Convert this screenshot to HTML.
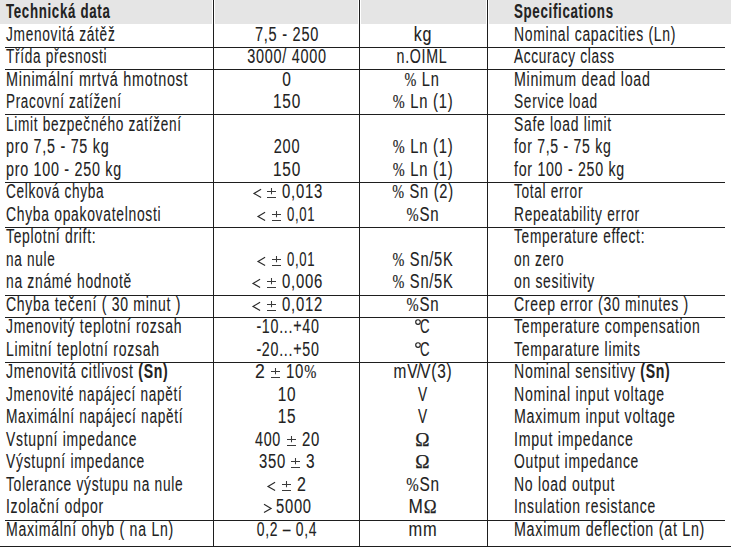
<!DOCTYPE html>
<html><head><meta charset="utf-8"><style>
html,body{margin:0;padding:0;background:#fff;}
body{width:731px;height:547px;position:relative;overflow:hidden;font-family:"Liberation Sans",sans-serif;color:#222;}
.g{position:absolute;background:#e5e5e5;top:0;height:24px;}
.h{position:absolute;height:1px;background:#1e1e1e;}
.v{position:absolute;width:1px;background:#1e1e1e;top:0;height:547px;}
.t{position:absolute;white-space:nowrap;font-size:19.6px;line-height:19.6px;height:19.6px;transform-origin:0 0;-webkit-text-stroke:0.1px #222;letter-spacing:1.0px;}
.sym{position:absolute;overflow:visible;}
b{font-weight:bold;}
.pc{font-family:"Liberation Serif",serif;font-size:19px;-webkit-text-stroke:0.2px #222;}
.om{font-family:"Liberation Serif",serif;-webkit-text-stroke:0.25px #222;}
</style></head><body>

<div class="g" style="left:0;width:212px"></div>
<div class="g" style="left:215px;width:143px"></div>
<div class="g" style="left:361px;width:125px"></div>
<div class="g" style="left:489px;width:242px"></div>
<div class="h" style="left:5px;width:720px;top:47px"></div>
<div class="h" style="left:5px;width:720px;top:69px"></div>
<div class="h" style="left:5px;width:720px;top:114px"></div>
<div class="h" style="left:5px;width:720px;top:182px"></div>
<div class="h" style="left:5px;width:720px;top:227px"></div>
<div class="h" style="left:5px;width:720px;top:295px"></div>
<div class="h" style="left:5px;width:720px;top:317px"></div>
<div class="h" style="left:5px;width:720px;top:362px"></div>
<div class="h" style="left:5px;width:720px;top:520px"></div>
<div class="h" style="left:0;width:731px;top:546px"></div>
<div class="v" style="left:213px"></div>
<div class="v" style="left:359px"></div>
<div class="v" style="left:487px"></div>
<div class="t" id="h1" style="left:6.0px;top:1.51px;transform:scaleX(0.6777)"><b>Technická data</b></div>
<div class="t" id="h4" style="left:514.0px;top:1.51px;transform:scaleX(0.6792)"><b>Specifications</b></div>
<div class="t" id="a0" style="left:6.0px;top:24.71px;transform:scaleX(0.6993)">Jmenovitá zátěž</div>
<div class="t" id="b0" style="left:286.8px;top:24.71px;transform:scaleX(0.7421) translateX(-50%)">7,5 - 250</div>
<div class="t" id="c0" style="left:423.0px;top:24.71px;transform:scaleX(0.8206) translateX(-50%)">kg</div>
<div class="t" id="d0" style="left:514.0px;top:24.71px;transform:scaleX(0.7117)">Nominal capacities (Ln)</div>
<div class="t" id="a1" style="left:6.0px;top:47.21px;transform:scaleX(0.6949)">Třída přesnosti</div>
<div class="t" id="b1" style="left:286.8px;top:47.21px;transform:scaleX(0.7367) translateX(-50%)">3000/ 4000</div>
<div class="t" id="c1" style="left:422.3px;top:47.21px;transform:scaleX(0.7261) translateX(-50%)">n.OIML</div>
<div class="t" id="d1" style="left:514.0px;top:47.21px;transform:scaleX(0.6963)">Accuracy class</div>
<div class="t" id="a2" style="left:6.0px;top:69.71px;transform:scaleX(0.7341)">Minimální mrtvá hmotnost</div>
<div class="t" id="b2" style="left:287.4px;top:69.71px;transform:scaleX(0.7900) translateX(-50%)">0</div>
<div class="t" id="c2" style="left:422.4px;top:69.71px;transform:scaleX(0.7466) translateX(-50%)"><span class="pc">%</span> Ln</div>
<div class="t" id="d2" style="left:514.0px;top:69.71px;transform:scaleX(0.7267)">Minimum dead load</div>
<div class="t" id="a3" style="left:6.0px;top:92.21px;transform:scaleX(0.6863)">Pracovní zatížení</div>
<div class="t" id="b3" style="left:286.5px;top:92.21px;transform:scaleX(0.7850) translateX(-50%)">150</div>
<div class="t" id="c3" style="left:422.5px;top:92.21px;transform:scaleX(0.7542) translateX(-50%)"><span class="pc">%</span> Ln (1)</div>
<div class="t" id="d3" style="left:514.0px;top:92.21px;transform:scaleX(0.6995)">Service load</div>
<div class="t" id="a4" style="left:6.0px;top:114.71px;transform:scaleX(0.6958)">Limit bezpečného zatížení</div>
<div class="t" id="d4" style="left:514.0px;top:114.71px;transform:scaleX(0.7088)">Safe load limit</div>
<div class="t" id="a5" style="left:6.0px;top:137.21px;transform:scaleX(0.7311)">pro 7,5 - 75 kg</div>
<div class="t" id="b5" style="left:287.0px;top:137.21px;transform:scaleX(0.7442) translateX(-50%)">200</div>
<div class="t" id="c5" style="left:422.5px;top:137.21px;transform:scaleX(0.7542) translateX(-50%)"><span class="pc">%</span> Ln (1)</div>
<div class="t" id="d5" style="left:514.0px;top:137.21px;transform:scaleX(0.7170)">for 7,5 - 75 kg</div>
<div class="t" id="a6" style="left:6.0px;top:159.71px;transform:scaleX(0.7302)">pro 100 - 250 kg</div>
<div class="t" id="b6" style="left:286.5px;top:159.71px;transform:scaleX(0.7850) translateX(-50%)">150</div>
<div class="t" id="c6" style="left:422.5px;top:159.71px;transform:scaleX(0.7542) translateX(-50%)"><span class="pc">%</span> Ln (1)</div>
<div class="t" id="d6" style="left:514.0px;top:159.71px;transform:scaleX(0.7239)">for 100 - 250 kg</div>
<div class="t" id="a7" style="left:6.0px;top:182.21px;transform:scaleX(0.6947)">Celková chyba</div>
<div class="t" id="s7_2" style="left:281.5px;top:182.21px;transform:scaleX(0.7603)">0,013</div>
<div class="t" id="c7" style="left:423.1px;top:182.21px;transform:scaleX(0.7465) translateX(-50%)"><span class="pc">%</span> Sn (2)</div>
<div class="t" id="d7" style="left:514.0px;top:182.21px;transform:scaleX(0.6968)">Total error</div>
<div class="t" id="a8" style="left:6.0px;top:204.71px;transform:scaleX(0.7084)">Chyba opakovatelnosti</div>
<div class="t" id="s8_2" style="left:286.8px;top:204.71px;transform:scaleX(0.6712)">0,01</div>
<div class="t" id="c8" style="left:422.9px;top:204.71px;transform:scaleX(0.7668) translateX(-50%)"><span class="pc">%</span>Sn</div>
<div class="t" id="d8" style="left:514.0px;top:204.71px;transform:scaleX(0.7025)">Repeatability error</div>
<div class="t" id="a9" style="left:6.0px;top:227.21px;transform:scaleX(0.7102)">Teplotní drift:</div>
<div class="t" id="d9" style="left:514.0px;top:227.21px;transform:scaleX(0.6996)">Temperature effect:</div>
<div class="t" id="a10" style="left:6.0px;top:249.71px;transform:scaleX(0.6945)">na nule</div>
<div class="t" id="s10_2" style="left:286.8px;top:249.71px;transform:scaleX(0.6712)">0,01</div>
<div class="t" id="c10" style="left:423.0px;top:249.71px;transform:scaleX(0.7479) translateX(-50%)"><span class="pc">%</span> Sn/5K</div>
<div class="t" id="d10" style="left:514.0px;top:249.71px;transform:scaleX(0.6964)">on zero</div>
<div class="t" id="a11" style="left:6.0px;top:272.21px;transform:scaleX(0.7064)">na známé hodnotě</div>
<div class="t" id="s11_2" style="left:282.2px;top:272.21px;transform:scaleX(0.7603)">0,006</div>
<div class="t" id="c11" style="left:423.0px;top:272.21px;transform:scaleX(0.7479) translateX(-50%)"><span class="pc">%</span> Sn/5K</div>
<div class="t" id="d11" style="left:514.0px;top:272.21px;transform:scaleX(0.7088)">on sesitivity</div>
<div class="t" id="a12" style="left:6.0px;top:294.71px;transform:scaleX(0.7145)">Chyba tečení ( 30 minut )</div>
<div class="t" id="s12_2" style="left:282.2px;top:294.71px;transform:scaleX(0.7598)">0,012</div>
<div class="t" id="c12" style="left:422.9px;top:294.71px;transform:scaleX(0.7668) translateX(-50%)"><span class="pc">%</span>Sn</div>
<div class="t" id="d12" style="left:514.0px;top:294.71px;transform:scaleX(0.7142)">Creep error (30 minutes )</div>
<div class="t" id="a13" style="left:6.0px;top:317.21px;transform:scaleX(0.7126)">Jmenovitý teplotní rozsah</div>
<div class="t" id="b13" style="left:287.9px;top:317.21px;transform:scaleX(0.7274) translateX(-50%)">-10...+40</div>
<div class="t" id="u13_1" style="left:420.4px;top:317.21px;transform:scaleX(0.6715)">C</div>
<div class="t" id="d13" style="left:514.0px;top:317.21px;transform:scaleX(0.7129)">Temperature compensation</div>
<div class="t" id="a14" style="left:6.0px;top:339.71px;transform:scaleX(0.7159)">Limitní teplotní rozsah</div>
<div class="t" id="b14" style="left:287.9px;top:339.71px;transform:scaleX(0.7274) translateX(-50%)">-20...+50</div>
<div class="t" id="u14_1" style="left:420.4px;top:339.71px;transform:scaleX(0.6715)">C</div>
<div class="t" id="d14" style="left:514.0px;top:339.71px;transform:scaleX(0.7110)">Temparature limits</div>
<div class="t" id="a15" style="left:6.0px;top:362.21px;transform:scaleX(0.7172)">Jmenovitá citlivost <b>(Sn)</b></div>
<div class="t" id="s15_0" style="left:255.0px;top:362.21px;transform:scaleX(0.9009)">2</div>
<div class="t" id="s15_2" style="left:285.8px;top:362.21px;transform:scaleX(0.7654)">10<span class="pc">%</span></div>
<div class="t" id="c15" style="left:422.5px;top:362.21px;transform:scaleX(0.7855) translateX(-50%)">mV<span style="margin-left:-2px;margin-right:-2px">/</span>V(3)</div>
<div class="t" id="d15" style="left:514.0px;top:362.21px;transform:scaleX(0.7180)">Nominal sensitivy <b>(Sn)</b></div>
<div class="t" id="a16" style="left:6.0px;top:384.71px;transform:scaleX(0.6955)">Jmenovité napájecí napětí</div>
<div class="t" id="b16" style="left:287.3px;top:384.71px;transform:scaleX(0.7841) translateX(-50%)">10</div>
<div class="t" id="c16" style="left:422.9px;top:384.71px;transform:scaleX(0.6992) translateX(-50%)">V</div>
<div class="t" id="d16" style="left:514.0px;top:384.71px;transform:scaleX(0.7201)">Nominal input voltage</div>
<div class="t" id="a17" style="left:6.0px;top:407.21px;transform:scaleX(0.6990)">Maximální napájecí napětí</div>
<div class="t" id="b17" style="left:287.3px;top:407.21px;transform:scaleX(0.7841) translateX(-50%)">15</div>
<div class="t" id="c17" style="left:422.9px;top:407.21px;transform:scaleX(0.6992) translateX(-50%)">V</div>
<div class="t" id="d17" style="left:514.0px;top:407.21px;transform:scaleX(0.7262)">Maximum input voltage</div>
<div class="t" id="a18" style="left:6.0px;top:429.71px;transform:scaleX(0.7103)">Vstupní impedance</div>
<div class="t" id="s18_0" style="left:255.1px;top:429.71px;transform:scaleX(0.7296)">400</div>
<div class="t" id="s18_2" style="left:301.5px;top:429.71px;transform:scaleX(0.7620)">20</div>
<div class="t" id="c18" style="left:422.6px;top:429.71px;transform:scaleX(0.9817) translateX(-50%)"><span class="om">Ω</span></div>
<div class="t" id="d18" style="left:514.0px;top:429.71px;transform:scaleX(0.7239)">Imput impedance</div>
<div class="t" id="a19" style="left:6.0px;top:452.21px;transform:scaleX(0.7110)">Výstupní impedance</div>
<div class="t" id="s19_0" style="left:258.7px;top:452.21px;transform:scaleX(0.7575)">350</div>
<div class="t" id="s19_2" style="left:306.1px;top:452.21px;transform:scaleX(0.7872)">3</div>
<div class="t" id="c19" style="left:422.6px;top:452.21px;transform:scaleX(0.9817) translateX(-50%)"><span class="om">Ω</span></div>
<div class="t" id="d19" style="left:514.0px;top:452.21px;transform:scaleX(0.7099)">Output impedance</div>
<div class="t" id="a20" style="left:6.0px;top:474.71px;transform:scaleX(0.7022)">Tolerance výstupu na nule</div>
<div class="t" id="s20_2" style="left:296.8px;top:474.71px;transform:scaleX(0.8161)">2</div>
<div class="t" id="c20" style="left:423.3px;top:474.71px;transform:scaleX(0.7865) translateX(-50%)"><span class="pc">%</span>Sn</div>
<div class="t" id="d20" style="left:514.0px;top:474.71px;transform:scaleX(0.7152)">No load output</div>
<div class="t" id="a21" style="left:6.0px;top:497.21px;transform:scaleX(0.7131)">Izolační odpor</div>
<div class="t" id="s21_1" style="left:276.2px;top:497.21px;transform:scaleX(0.7515)">5000</div>
<div class="t" id="c21" style="left:423.1px;top:497.21px;transform:scaleX(0.8794) translateX(-50%)">M<span class="om">Ω</span></div>
<div class="t" id="d21" style="left:514.0px;top:497.21px;transform:scaleX(0.7110)">Insulation resistance</div>
<div class="t" id="a22" style="left:6.0px;top:519.71px;transform:scaleX(0.7202)">Maximální ohyb ( na Ln)</div>
<div class="t" id="b22" style="left:286.5px;top:519.71px;transform:scaleX(0.7110) translateX(-50%)">0,2 – 0,4</div>
<div class="t" id="c22" style="left:422.5px;top:519.71px;transform:scaleX(0.8376) translateX(-50%)">mm</div>
<div class="t" id="d22" style="left:514.0px;top:519.71px;transform:scaleX(0.7285)">Maximum deflection (at Ln)</div>
<svg class="sym" style="left:252.50px;top:188px" width="10" height="11" viewBox="0 0 10 11"><path d="M8.1 1.3 L1 5.4 L8.1 9.6" fill="none" stroke="#2a2a2a" stroke-width="1.15"/></svg>
<svg class="sym" style="left:267.00px;top:187px" width="10" height="11" viewBox="0 0 10 11"><path d="M0 4.5 H9 M4.5 1 V7.2 M0 10.4 H9" fill="none" stroke="#3a3a3a" stroke-width="1.05"/></svg>
<svg class="sym" style="left:256.60px;top:211px" width="10" height="11" viewBox="0 0 10 11"><path d="M8.1 1.3 L1 5.4 L8.1 9.6" fill="none" stroke="#2a2a2a" stroke-width="1.15"/></svg>
<svg class="sym" style="left:271.60px;top:210px" width="10" height="11" viewBox="0 0 10 11"><path d="M0 4.5 H9 M4.5 1 V7.2 M0 10.4 H9" fill="none" stroke="#3a3a3a" stroke-width="1.05"/></svg>
<svg class="sym" style="left:256.60px;top:256px" width="10" height="11" viewBox="0 0 10 11"><path d="M8.1 1.3 L1 5.4 L8.1 9.6" fill="none" stroke="#2a2a2a" stroke-width="1.15"/></svg>
<svg class="sym" style="left:271.60px;top:255px" width="10" height="11" viewBox="0 0 10 11"><path d="M0 4.5 H9 M4.5 1 V7.2 M0 10.4 H9" fill="none" stroke="#3a3a3a" stroke-width="1.05"/></svg>
<svg class="sym" style="left:252.20px;top:278px" width="10" height="11" viewBox="0 0 10 11"><path d="M8.1 1.3 L1 5.4 L8.1 9.6" fill="none" stroke="#2a2a2a" stroke-width="1.15"/></svg>
<svg class="sym" style="left:267.00px;top:277px" width="10" height="11" viewBox="0 0 10 11"><path d="M0 4.5 H9 M4.5 1 V7.2 M0 10.4 H9" fill="none" stroke="#3a3a3a" stroke-width="1.05"/></svg>
<svg class="sym" style="left:252.20px;top:301px" width="10" height="11" viewBox="0 0 10 11"><path d="M8.1 1.3 L1 5.4 L8.1 9.6" fill="none" stroke="#2a2a2a" stroke-width="1.15"/></svg>
<svg class="sym" style="left:267.00px;top:300px" width="10" height="11" viewBox="0 0 10 11"><path d="M0 4.5 H9 M4.5 1 V7.2 M0 10.4 H9" fill="none" stroke="#3a3a3a" stroke-width="1.05"/></svg>
<svg class="sym" style="left:270.80px;top:367px" width="10" height="11" viewBox="0 0 10 11"><path d="M0 4.5 H9 M4.5 1 V7.2 M0 10.4 H9" fill="none" stroke="#3a3a3a" stroke-width="1.05"/></svg>
<svg class="sym" style="left:286.70px;top:435px" width="10" height="11" viewBox="0 0 10 11"><path d="M0 4.5 H9 M4.5 1 V7.2 M0 10.4 H9" fill="none" stroke="#3a3a3a" stroke-width="1.05"/></svg>
<svg class="sym" style="left:291.00px;top:457px" width="10" height="11" viewBox="0 0 10 11"><path d="M0 4.5 H9 M4.5 1 V7.2 M0 10.4 H9" fill="none" stroke="#3a3a3a" stroke-width="1.05"/></svg>
<svg class="sym" style="left:267.30px;top:481px" width="10" height="11" viewBox="0 0 10 11"><path d="M8.1 1.3 L1 5.4 L8.1 9.6" fill="none" stroke="#2a2a2a" stroke-width="1.15"/></svg>
<svg class="sym" style="left:282.30px;top:480px" width="10" height="11" viewBox="0 0 10 11"><path d="M0 4.5 H9 M4.5 1 V7.2 M0 10.4 H9" fill="none" stroke="#3a3a3a" stroke-width="1.05"/></svg>
<svg class="sym" style="left:262.60px;top:503px" width="10" height="11" viewBox="0 0 10 11"><path d="M1 1.3 L8.1 5.4 L1 9.6" fill="none" stroke="#2a2a2a" stroke-width="1.15"/></svg>
<svg class="sym" style="left:413.90px;top:318px" width="8" height="8" viewBox="0 0 8 8"><circle cx="4" cy="4" r="2.3" fill="none" stroke="#222" stroke-width="1.15"/></svg>
<svg class="sym" style="left:413.90px;top:341px" width="8" height="8" viewBox="0 0 8 8"><circle cx="4" cy="4" r="2.3" fill="none" stroke="#222" stroke-width="1.15"/></svg>
</body></html>
